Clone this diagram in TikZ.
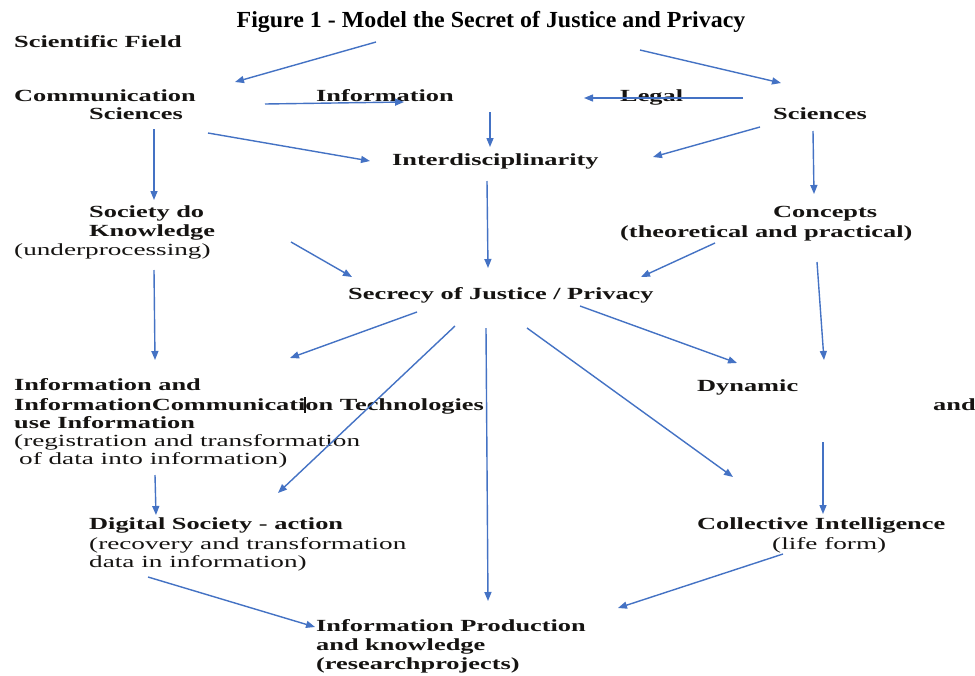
\documentclass[tikz,border=0pt]{standalone}
\usepackage{fontspec}
\setmainfont{Liberation Serif}
\newfontfamily\labelfont[FakeStretch=1.55]{Liberation Serif}
\newfontfamily\notefont[FakeStretch=1.6]{Liberation Serif}
\newfontfamily\headfont[FakeStretch=1.04]{Liberation Serif}
\usetikzlibrary{arrows.meta}
\definecolor{linkblue}{RGB}{68,114,196}
\definecolor{inkdark}{RGB}{22,20,18}
\begin{document}
\begin{tikzpicture}[x=1pt,y=-1pt,
  lbl/.style={anchor=base west,inner sep=0pt,text=inkdark,
              font=\labelfont\bfseries\fontsize{17}{19}\selectfont},
  sub/.style={lbl,font=\notefont\fontsize{17}{19}\selectfont},
  arr/.style={draw=linkblue,line width=1.4pt,
              -{Triangle[length=9pt,width=7pt]}}]
\useasboundingbox[fill=white] (0,0) rectangle (975,675);

% heading
\node[anchor=base,inner sep=0pt,font=\headfont\bfseries\fontsize{23}{25}\selectfont]
  (title) at (491,27) {Figure 1 - Model the Secret of Justice and Privacy};

% concept labels
\node[lbl] (sf)    at (14,47)   {Scientific Field};
\node[lbl] (comm1) at (14,101)  {Communication};
\node[lbl] (comm2) at (89,119)  {Sciences};
\node[lbl] (info)  at (316,101) {Information};
\node[lbl] (legal) at (620,101) {Legal};
\node[lbl] (sci)   at (773,119) {Sciences};
\node[lbl] (inter) at (392,165) {Interdisciplinarity};
\node[lbl] (soc1)  at (89,217)  {Society do};
\node[lbl] (soc2)  at (89,236)  {Knowledge};
\node[sub] (soc3)  at (14,255)  {(underprocessing)};
\node[lbl] (con1)  at (773,217) {Concepts};
\node[lbl] (con2)  at (620,237) {(theoretical and practical)};
\node[lbl] (sec)   at (348,299) {Secrecy of Justice / Privacy};
\node[lbl] (ict1)  at (14,390)  {Information and};
\node[lbl] (ict2)  at (14,410)  {InformationCommunication Technologies};
\node[lbl] (ict3)  at (14,428)  {use Information};
\node[sub] (ict4)  at (14,446)  {(registration and transformation};
\node[sub] (ict5)  at (19,464)  {of data into information)};
\node[lbl] (dyn1)  at (697,391) {Dynamic};
\node[lbl] (dyn2)  at (933,410) {and};
\node[lbl] (dig1)  at (89,529)  {Digital Society - action};
\node[sub] (dig2)  at (89,549)  {(recovery and transformation};
\node[sub] (dig3)  at (89,567)  {data in information)};
\node[lbl] (col1)  at (697,529) {Collective Intelligence};
\node[sub] (col2)  at (772,549) {(life form)};
\node[lbl] (prod1) at (316,631) {Information Production};
\node[lbl] (prod2) at (316,650) {and knowledge};
\node[lbl] (prod3) at (316,669) {(researchprojects)};

% text cursor left inside the technologies line
\draw[line width=1.3pt,inkdark] (305,397) -- (305,413);

% connectors
\draw[arr] ([shift={(362,-5)}]sf.base west)    -- ([shift={(221,-19)}]comm1.base west);
\draw[arr] ([shift={(626,3)}]sf.base west)     -- ([shift={(8,-36)}]sci.base west);
\draw[arr] ([shift={(251,3)}]comm1.base west)  -- ([shift={(88,1)}]info.base west);
\draw[arr] ([shift={(-30,-21)}]sci.base west)  -- ([shift={(-36,-3)}]legal.base west);
\draw[arr] ([shift={(174,11)}]info.base west)  -- ([shift={(98,-18)}]inter.base west);
\draw[arr] ([shift={(119,14)}]comm2.base west) -- ([shift={(-22,-4)}]inter.base west);
\draw[arr] ([shift={(-13,8)}]sci.base west)    -- ([shift={(261,-8)}]inter.base west);
\draw[arr] ([shift={(65,10)}]comm2.base west)  -- ([shift={(65,-17)}]soc1.base west);
\draw[arr] ([shift={(40,12)}]sci.base west)    -- ([shift={(41,-23)}]con1.base west);
\draw[arr] ([shift={(95,16)}]inter.base west)  -- ([shift={(140,-31)}]sec.base west);
\draw[arr] ([shift={(202,6)}]soc2.base west)   -- ([shift={(4,-22)}]sec.base west);
\draw[arr] ([shift={(95,6)}]con2.base west)    -- ([shift={(293,-22)}]sec.base west);
\draw[arr] ([shift={(140,15)}]soc3.base west)  -- ([shift={(141,-30)}]ict1.base west);
\draw[arr] ([shift={(197,25)}]con2.base west)  -- ([shift={(127,-31)}]dyn1.base west);
\draw[arr] ([shift={(69,13)}]sec.base west)    -- ([shift={(276,-32)}]ict1.base west);
\draw[arr] ([shift={(232,7)}]sec.base west)    -- ([shift={(40,-28)}]dyn1.base west);
\draw[arr] ([shift={(107,27)}]sec.base west)   -- ([shift={(189,-36)}]dig1.base west);
\draw[arr] ([shift={(179,29)}]sec.base west)   -- ([shift={(36,-52)}]col1.base west);
\draw[arr] ([shift={(138,29)}]sec.base west)   -- ([shift={(172,-30)}]prod1.base west);
\draw[arr] ([shift={(136,11)}]ict5.base west)  -- ([shift={(67,-14)}]dig1.base west);
\draw[arr] ([shift={(126,51)}]dyn1.base west)  -- ([shift={(126,-15)}]col1.base west);
\draw[arr] ([shift={(59,10)}]dig3.base west)   -- ([shift={(-1,-4)}]prod1.base west);
\draw[arr] ([shift={(11,5)}]col2.base west)    -- ([shift={(302,-23)}]prod1.base west);
\end{tikzpicture}
\end{document}
